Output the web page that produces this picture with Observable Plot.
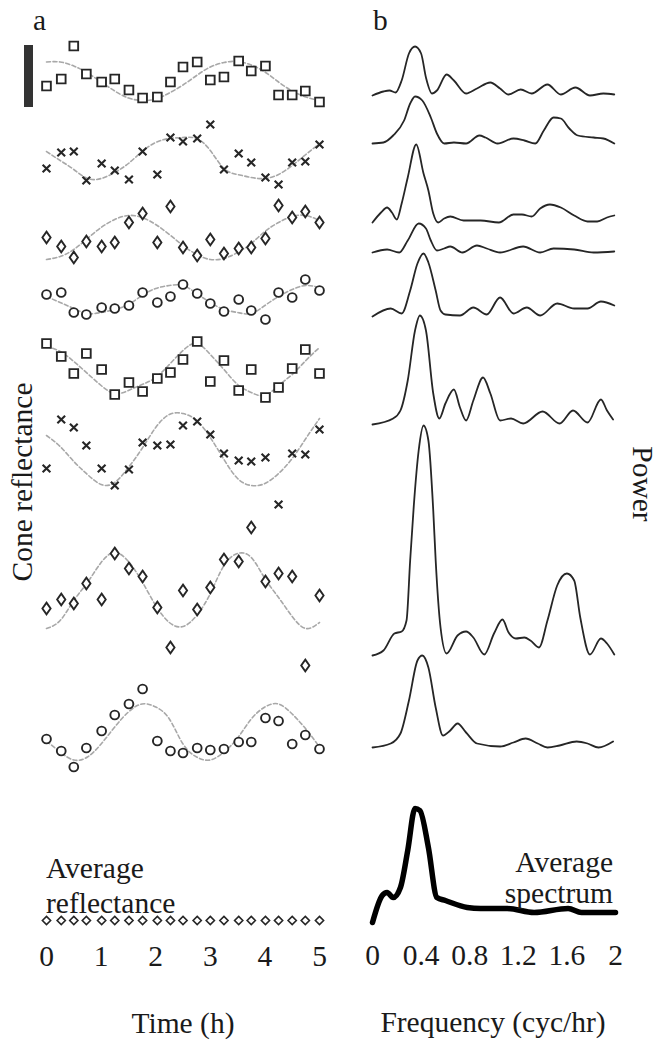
<!DOCTYPE html>
<html><head><meta charset="utf-8">
<script src="https://cdn.jsdelivr.net/npm/d3@7"></script>
<script src="https://cdn.jsdelivr.net/npm/@observablehq/plot@0.6"></script>
<style>
body{margin:0;background:#fff;overflow:hidden;}
#fig{position:relative;width:664px;height:1050px;background:#fff;}
#fig svg{position:absolute;top:0;}
</style></head><body><div id="fig"></div><script>
// ---------- Panel a: cone reflectance time series ----------
const times = [0,0.27,0.5,0.73,1.01,1.25,1.51,1.76,2.03,2.27,2.5,2.76,3,3.25,3.52,3.75,4.01,4.25,4.5,4.74,5];
const fitTimes = [0,0.25,0.5,0.75,1,1.25,1.5,1.75,2,2.25,2.5,2.75,3,3.25,3.5,3.75,4,4.25,4.5,4.75,5];
const timeTicks = [0,1,2,3,4,5];
const cellSymbols = ["square","times","diamond","circle","square","times","diamond","circle"];
const cellOffsets = [84.45,76.7,68.8,62.6,55.6,47.6,33.5,19.35];

const refl1 = [-0.5,0.2,3.5,0.7,-0.1,0.2,-0.9,-1.7,-1.6,-0.1,1.4,1.9,0.1,0.4,2.0,1.0,1.5,-1.4,-1.4,-1.0,-2.1];
const refl2 = [-1.0,0.6,0.7,-2.2,-0.5,-1.2,-2.1,0.7,-1.6,2.1,1.7,2.0,3.4,-1.1,0.5,-0.4,-1.9,-2.6,-0.4,-0.3,1.4];
const refl3 = [0.0,-0.9,-2.0,-0.4,-0.9,-0.5,1.5,2.4,-0.5,3.1,-1.0,-1.8,-0.2,-1.6,-1.1,-1.0,-0.1,3.2,2.0,2.6,1.5];
const refl4 = [0.5,0.7,-1.3,-1.5,-0.8,-0.9,-0.6,0.7,-0.3,0.3,1.5,0.6,-0.4,-1.2,0.0,-1.1,-2.0,0.7,0.2,2.0,0.9];
const refl5 = [2.6,1.3,-0.4,1.6,0.0,-2.5,-1.3,-2.2,-0.9,-0.3,1.0,2.8,-1.2,0.9,-2.1,0.0,-2.8,-1.8,0.1,2.0,-0.4];
const refl6 = [-1.9,3.0,2.2,0.4,-1.9,-3.6,-2.0,0.7,0.4,0.5,2.4,2.8,1.5,-0.4,-1.1,-1.2,-0.8,-5.5,-0.4,-0.5,2.0];
const refl7 = [-1.8,-0.9,-1.3,0.7,-0.9,3.7,2.2,1.4,-1.7,-5.7,0.0,-1.9,0.3,3.1,2.9,6.3,0.9,1.7,1.4,-7.5,-0.5];
const refl8 = [-0.7,-1.9,-3.5,-1.6,0.1,1.7,2.8,4.3,-0.9,-1.9,-2.1,-1.6,-1.8,-1.7,-1.0,-1.0,1.4,1.1,-1.2,-0.3,-1.7];

const fit1 = [1.9,1.9,1.5,0.8,-0.1,-1.0,-1.7,-1.95,-1.8,-1.2,-0.4,0.55,1.4,1.85,1.95,1.6,0.9,-0.1,-1.0,-1.6,-1.95];
const fit2 = [0.7,-0.2,-1.1,-2.0,-2.0,-1.4,-0.5,0.7,1.6,2.0,2.1,2.0,0.8,-1.0,-1.6,-1.9,-2.0,-1.6,-0.7,0.4,1.5];
const fit3 = [-2.2,-1.9,-1.2,-0.1,1.0,1.8,2.2,2.0,1.3,0.3,-0.8,-1.7,-2.2,-2.1,-1.5,-0.6,0.6,1.5,2.1,2.2,1.7];
const fit4 = [0.3,-0.3,-0.9,-1.4,-1.3,-1.0,-0.5,0.4,1.1,1.4,1.4,0.6,-0.3,-1.0,-1.3,-1.4,-0.6,0.3,1.0,1.4,1.2];
const fit5 = [2.3,1.8,0.8,-0.4,-1.6,-2.4,-2.1,-1.5,-0.8,0.5,1.9,2.6,1.5,0.0,-1.5,-2.3,-2.6,-1.6,-0.5,0.9,2.2];
const fit6 = [1.4,0.3,-1.2,-2.5,-3.5,-3.3,-1.8,0.1,2.2,3.5,3.6,2.9,1.2,-1.0,-2.9,-3.6,-3.4,-2.4,-0.9,1.1,3.1];
const fit7 = [-3.8,-3.0,-1.0,0.8,2.8,3.8,2.9,0.9,-1.5,-3.2,-3.6,-2.5,-0.3,2.5,3.7,3.3,1.2,-0.7,-2.6,-3.8,-3.2];
const fit8 = [-0.9,-2.0,-2.8,-2.5,-1.2,0.5,2.0,2.8,2.5,1.3,-1.2,-2.5,-2.8,-2.0,-0.6,1.3,2.5,2.8,1.8,0.3,-1.5];

const avgRefl = [0,0,0,0,0,0,0,0,0,0,0,0,0,0,0,0,0,0,0,0,0];
const avgReflOffset = 0.5;
const scaleBar = [{t: -0.33, lo: 81.8, hi: 88.0}];

// ---------- Panel b: power spectra ----------
const freqTicks = [0,0.4,0.8,1.2,1.6,2];
const spectrumOffsets = [83.0,78.2,70.3,67.3,60.9,50.1,27.0,17.8];
const freq1 = [0,0.09,0.14,0.19,0.24,0.30,0.35,0.40,0.44,0.49,0.53,0.61,0.67,0.77,0.86,0.97,1.05,1.12,1.22,1.31,1.44,1.55,1.67,1.79,1.90,1.99];
const power1 = [0,0.4,0.5,0.3,1.5,4.2,4.9,4.2,1.8,0.2,0.5,2.1,1.5,0.2,0.7,1.3,0.7,0.1,0.6,0.2,1.1,0.1,0.8,0,0.2,0.1];
const freq2 = [0,0.09,0.17,0.26,0.31,0.35,0.41,0.48,0.53,0.59,0.67,0.77,0.88,0.93,1.03,1.16,1.25,1.34,1.41,1.49,1.55,1.62,1.69,1.82,1.90,1.99];
const power2 = [0,0.1,0.8,2.3,4.0,4.7,4.3,2.6,1.0,0,0.1,0,0.8,0.6,0,0.5,0.3,0,1.3,2.6,2.5,1.5,0.8,0.6,0.5,0];
const freq3 = [0,0.07,0.12,0.16,0.20,0.24,0.29,0.36,0.42,0.46,0.50,0.54,0.59,0.64,0.75,0.89,1.04,1.16,1.23,1.31,1.38,1.46,1.55,1.66,1.77,1.85,1.93,1.99];
const power3 = [0,1.0,1.5,1.0,0.3,1.9,4.5,7.8,4.9,3.2,0.9,0,0.4,0.6,0.2,0.2,0,0.8,0.8,0.6,1.4,1.8,1.5,0.7,0.1,0.1,0.5,0.7];
const freq4 = [0,0.12,0.22,0.29,0.38,0.44,0.48,0.53,0.59,0.64,0.74,0.86,0.94,1.05,1.24,1.38,1.49,1.66,1.82,1.99];
const power4 = [0,0.3,0,1.2,2.9,2.4,1.2,0.2,0.4,0.6,0,0.7,0.4,0,0.6,0,0.4,0.3,0,0.1];
const freq5 = [0,0.15,0.24,0.31,0.37,0.42,0.46,0.52,0.56,0.60,0.72,0.83,0.94,1.05,1.16,1.27,1.38,1.52,1.66,1.77,1.88,1.99];
const power5 = [0,0.8,0.3,2.6,5.3,6.3,5.4,2.6,0.6,0.2,0.1,0.9,0.2,1.9,0.3,0.9,0.1,1.3,0.8,0.8,1.5,1.1];
const freq6 = [0,0.17,0.23,0.29,0.35,0.39,0.44,0.50,0.55,0.60,0.67,0.72,0.77,0.83,0.91,0.97,1.05,1.14,1.24,1.40,1.54,1.65,1.77,1.88,1.93,1.98];
const power6 = [0,0.6,1.4,4.4,9.4,10.9,9.4,3.1,0.6,2.1,3.5,1.7,0.4,2.4,4.7,3.1,0.4,0.6,0.1,1.3,0.1,1.4,0.2,2.5,1.4,0.5];
const freq7 = [0,0.09,0.18,0.24,0.28,0.31,0.34,0.38,0.42,0.46,0.50,0.52,0.56,0.61,0.70,0.77,0.83,0.92,1.00,1.07,1.12,1.18,1.25,1.30,1.37,1.44,1.52,1.60,1.66,1.71,1.79,1.88,1.93,1.99];
const power7 = [0,0.5,2.2,2.4,3.5,9.5,15.0,20.5,23.0,21.5,14.5,9.5,2.8,0.2,2.0,2.4,1.8,0.1,2.2,3.6,2.3,1.7,1.8,1.5,0.8,3.5,7.0,8.2,7.5,3.8,0.1,1.7,1.2,0.1];
const freq8 = [0,0.15,0.23,0.30,0.37,0.41,0.46,0.52,0.58,0.64,0.70,0.77,0.86,1.05,1.16,1.26,1.36,1.44,1.54,1.68,1.77,1.86,1.98];
const power8 = [0,0.4,1.4,4.7,8.7,9.2,8.0,4.0,1.2,1.7,2.4,1.5,0.4,0.1,0.5,0.9,0.4,0,0.2,0.6,0.4,0,0.6];
const avgFreq = [0,0.08,0.12,0.17,0.23,0.29,0.35,0.39,0.46,0.53,0.60,0.78,0.89,1.11,1.33,1.61,1.72,2.0];
const avgPower = [0,2.7,3.0,2.5,3.5,7.2,11.4,11.2,7.5,2.5,2.2,1.5,1.4,1.4,1.0,1.4,1.0,1.0];
const avgSpectrumOffset = 0.3;

// ---------- build ----------
const INK = "#262626";
const FONT = "'Liberation Serif','Times New Roman',serif";
const FS = 29.5;
const refls = [refl1,refl2,refl3,refl4,refl5,refl6,refl7,refl8];
const fits = [fit1,fit2,fit3,fit4,fit5,fit6,fit7,fit8];
const freqs = [freq1,freq2,freq3,freq4,freq5,freq6,freq7,freq8];
const powers = [power1,power2,power3,power4,power5,power6,power7,power8];

// a slightly wider diamond than d3's default
const wideDiamond = {draw(ctx, size) {
  const h = Math.sqrt(size) * 0.75, w = h * 0.7;
  ctx.moveTo(0, -h); ctx.lineTo(w, 0); ctx.lineTo(0, h); ctx.lineTo(-w, 0); ctx.closePath();
}};
const symbolOf = {square: "square", times: "times", diamond: wideDiamond, circle: "circle"};
const symbolR = {square: 4.9, times: 3.6, diamond: 4.4, circle: 4.4};

const leftMarks = [
  Plot.axisX({ticks: timeTicks, tickFormat: d => `${d}`, tickSize: 0, tickPadding: 20, fontSize: FS, label: null, fill: "#1a1a1a"}),
  Plot.ruleX(scaleBar, {x: "t", y1: "lo", y2: "hi", stroke: "#333", strokeWidth: 9})
];
refls.forEach((vals, i) => {
  const off = cellOffsets[i];
  leftMarks.push(Plot.line(fitTimes.map((t, j) => ({t, v: fits[i][j] + off})),
    {x: "t", y: "v", curve: "natural", stroke: "#a8a8a8", strokeWidth: 1.6, strokeDasharray: "4,2.5"}));
  const sym = cellSymbols[i];
  leftMarks.push(Plot.dot(times.map((t, j) => ({t, v: vals[j] + off})),
    {x: "t", y: "v", symbol: symbolOf[sym], r: symbolR[sym], stroke: INK,
     strokeWidth: sym === "times" ? 2.1 : 1.9, fill: sym === "times" ? "none" : "white"}));
});
leftMarks.push(Plot.dot(times.map((t, j) => ({t, v: avgRefl[j] + avgReflOffset})),
  {x: "t", y: "v", symbol: "diamond2", r: 3.7, stroke: INK, strokeWidth: 1.6, fill: "white"}));

const left = Plot.plot({
  width: 340, height: 1050,
  marginLeft: 46, marginRight: 21, marginTop: 0, marginBottom: 125,
  x: {domain: [0, 5]},
  y: {domain: [0, 92.5], axis: null},
  style: {fontFamily: FONT, fontSize: FS + "px", background: "transparent", overflow: "visible", color: "#1a1a1a"},
  marks: leftMarks
});
left.style.left = "0px";

const rightMarks = [
  Plot.axisX({ticks: freqTicks, tickFormat: d => `${d}`, tickSize: 0, tickPadding: 19, fontSize: FS, label: null, fill: "#1a1a1a"})
];
powers.forEach((p, i) => {
  const off = spectrumOffsets[i];
  rightMarks.push(Plot.line(freqs[i].map((f, j) => ({f, v: p[j] + off})),
    {x: "f", y: "v", curve: "monotone-x", stroke: INK, strokeWidth: 1.8}));
});
rightMarks.push(Plot.line(avgFreq.map((f, j) => ({f, v: avgPower[j] + avgSpectrumOffset})),
  {x: "f", y: "v", curve: "monotone-x", stroke: "#000", strokeWidth: 5.5, strokeLinejoin: "round", strokeLinecap: "round"}));

const right = Plot.plot({
  width: 324, height: 1050,
  marginLeft: 32, marginRight: 49, marginTop: 0, marginBottom: 125,
  x: {domain: [0, 2]},
  y: {domain: [0, 92.5], axis: null},
  style: {fontFamily: FONT, fontSize: FS + "px", background: "transparent", overflow: "visible", color: "#1a1a1a"},
  marks: rightMarks
});
right.style.left = "340px";

const fig = document.getElementById("fig");
fig.appendChild(left);
fig.appendChild(right);

// ---------- text labels ----------
const labels = [
  {text: "a", x: 33, y: 30, anchor: "start", rot: 0},
  {text: "b", x: 373, y: 30, anchor: "start", rot: 0},
  {text: "Cone reflectance", x: 32, y: 482, anchor: "middle", rot: -90},
  {text: "Power", x: 633, y: 484, anchor: "middle", rot: 90},
  {text: "Average", x: 46, y: 878, anchor: "start", rot: 0},
  {text: "reflectance", x: 46, y: 913, anchor: "start", rot: 0},
  {text: "Average", x: 613, y: 872, anchor: "end", rot: 0},
  {text: "spectrum", x: 613, y: 903, anchor: "end", rot: 0},
  {text: "Time (h)", x: 183, y: 1033, anchor: "middle", rot: 0},
  {text: "Frequency (cyc/hr)", x: 493, y: 1032, anchor: "middle", rot: 0}
];
const ov = d3.select(fig).append("svg").attr("width", 664).attr("height", 1050)
  .style("left", "0px").style("top", "0px");
ov.selectAll("text").data(labels).join("text")
  .attr("transform", d => `translate(${d.x},${d.y}) rotate(${d.rot})`)
  .attr("text-anchor", d => d.anchor)
  .attr("font-family", FONT).attr("font-size", FS).attr("fill", "#1a1a1a")
  .text(d => d.text);
</script></body></html>
